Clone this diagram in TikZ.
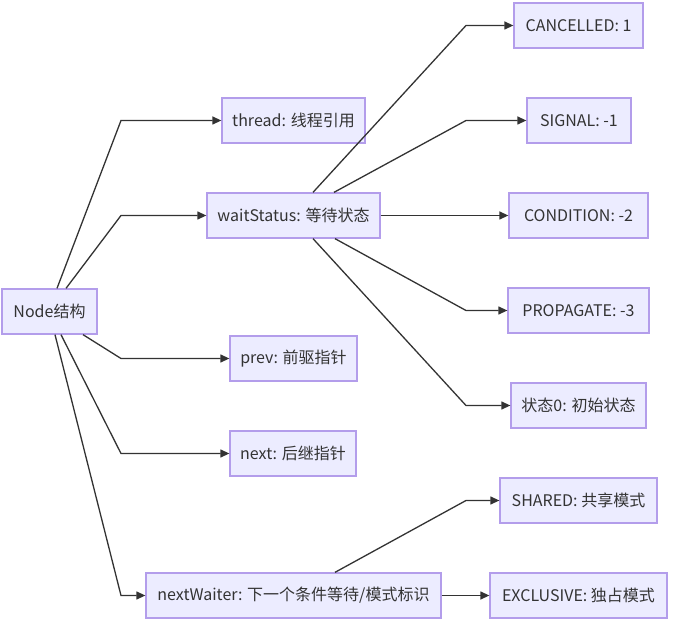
\documentclass[tikz,border=0pt]{standalone}
\usepackage{fontspec}
\setmainfont{Noto Sans CJK SC}
\usetikzlibrary{arrows.meta,calc}
\definecolor{nodefill}{HTML}{ECECFF}
\definecolor{nodeline}{HTML}{B39DEB}
\definecolor{edgecol}{HTML}{333333}
\begin{document}
\begin{tikzpicture}[x=1pt,y=-1pt,
  box/.style={draw=nodeline,fill=nodefill,line width=1.3pt,inner sep=0pt,minimum height=45pt,
    font=\fontsize{16}{19}\selectfont,text=edgecol},
  link/.style={draw=edgecol,line width=1.3pt,-{Triangle[length=9pt,width=8pt]}}]
\useasboundingbox[fill=white] (0,0) rectangle (675,620);
\coordinate (cx) at (121,0);
\coordinate (cw) at (466,0);
\node[box,minimum width=95pt] (root) at (49.5,311.5) {Node结构};
\node[box,minimum width=143pt] (thread) at (293.5,120.5) {thread: 线程引用};
\node[box,minimum width=173pt] (ws) at (293.5,215.5) {waitStatus: 等待状态};
\node[box,minimum width=127pt] (prev) at (293.5,358.5) {prev: 前驱指针};
\node[box,minimum width=126pt] (next) at (293,453.5) {next: 后继指针};
\node[box,minimum width=295pt] (nw) at (293.5,595.5) {nextWaiter: 下一个条件等待/模式标识};
\node[box,minimum width=129pt] (can) at (578.5,25.5) {CANCELLED: 1};
\node[box,minimum width=104pt] (sig) at (579,120.5) {SIGNAL: -1};
\node[box,minimum width=139pt] (cond) at (578.5,215.5) {CONDITION: -2};
\node[box,minimum width=141pt] (prop) at (578.5,310.5) {PROPAGATE: -3};
\node[box,minimum width=135pt] (zero) at (578.5,405.5) {状态0: 初始状态};
\node[box,minimum width=157pt] (sh) at (578.5,500.5) {SHARED: 共享模式};
\node[box,minimum width=177pt] (ex) at (578.5,595.5) {EXCLUSIVE: 独占模式};
% from root
\draw[link] ([xshift=7.5]root.north) -- (thread.west -| cx) -- (thread.west);
\draw[link] ([xshift=16.5]root.north) -- (ws.west -| cx) -- (ws.west);
\draw[link] ([xshift=33.5]root.south) -- (prev.west -| cx) -- (prev.west);
\draw[link] ([xshift=11.5]root.south) -- (next.west -| cx) -- (next.west);
\draw[link] ([xshift=5.5]root.south) -- (nw.west -| cx) -- (nw.west);
% from waitStatus
\draw[link] ([xshift=19.5]ws.north) -- (can.west -| cw) -- (can.west);
\draw[link] ([xshift=40.5]ws.north) -- (sig.west -| cw) -- (sig.west);
\draw[link] (ws.east) -- (cond.west);
\draw[link] ([xshift=41.5]ws.south) -- (prop.west -| cw) -- (prop.west);
\draw[link] ([xshift=19.5]ws.south) -- (zero.west -| cw) -- (zero.west);
% from nextWaiter
\draw[link] ([xshift=41.5]nw.north) -- (sh.west -| cw) -- (sh.west);
\draw[link] (nw.east) -- (ex.west);
\end{tikzpicture}
\end{document}
